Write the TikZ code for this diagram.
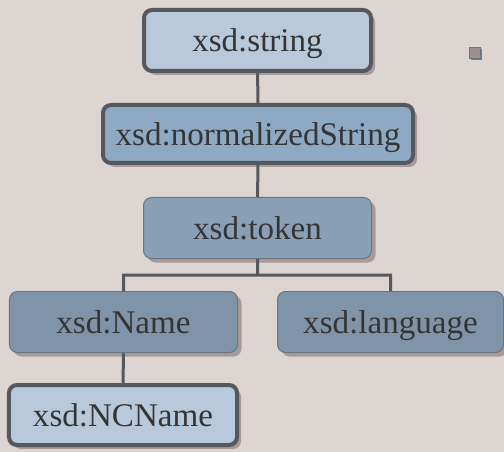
\documentclass[tikz,border=0pt]{standalone}
\usepackage{fontspec}
\setmainfont{Liberation Serif}
\usetikzlibrary{shadows}
\definecolor{bgc}{HTML}{DDD5D1}
\definecolor{lightc}{HTML}{B7C9DB}
\definecolor{midc}{HTML}{8DA9C4}
\definecolor{tokc}{HTML}{889FB6}
\definecolor{darkc}{HTML}{8094A9}
\definecolor{edgec}{HTML}{55595E}
\definecolor{thinc}{HTML}{6B7580}
\definecolor{shadec}{HTML}{A89A98}
\definecolor{textc}{HTML}{353535}
\definecolor{markc}{HTML}{9C8F8F}
\begin{document}
\begin{tikzpicture}[x=1bp,y=-1bp,
    typebox/.style={rectangle,rounded corners=8bp,text=textc,
        font=\rmfamily\fontsize{33.2}{40}\selectfont,
        text depth=0pt,
        general shadow={shadow xshift=4bp,shadow yshift=-4bp,fill=shadec,draw=none}},
    thickbox/.style={typebox,draw=edgec,line width=4bp},
    thinbox/.style={typebox,draw=thinc,line width=1bp},
    link/.style={draw=edgec,line width=3bp}]
    \fill[bgc] (0,0) rectangle (504,452);
    \useasboundingbox (0,0) rectangle (504,452);
    % type hierarchy
    \node (string) [thickbox,fill=lightc,minimum width=227bp,minimum height=61bp] at (257.5,40.5) {xsd:string};
    \node (norm) [thickbox,fill=midc,minimum width=310bp,minimum height=58bp] at (258,134) {xsd:normalizedString};
    \node (token) [thinbox,fill=tokc,minimum width=228bp,minimum height=61bp] at (257.5,228) {xsd:token};
    \node (name) [thinbox,fill=darkc,minimum width=228bp,minimum height=61bp] at (123.5,322) {xsd:Name};
    \node (lang) [thinbox,fill=darkc,minimum width=226bp,minimum height=61bp] at (390.5,322) {xsd:language};
    \node (ncname) [thickbox,fill=lightc,minimum width=228bp,minimum height=60bp] at (123,415) {xsd:NCName};
    \node (mark) [rectangle,draw=thinc,fill=markc,line width=0.5bp,minimum size=11bp,inner sep=0pt,
        general shadow={shadow xshift=2bp,shadow yshift=-2bp,fill=edgec!80,draw=none}] at (474.5,52.5) {};
    \coordinate (fork) at (257.5,275);
    % connectors
    \path[link]
        (string) -- (norm)
        (norm) -- (token)
        (token) -- (fork)
        (fork) -| (name)
        (fork) -| (lang)
        (name) -- (ncname);
\end{tikzpicture}
\end{document}
